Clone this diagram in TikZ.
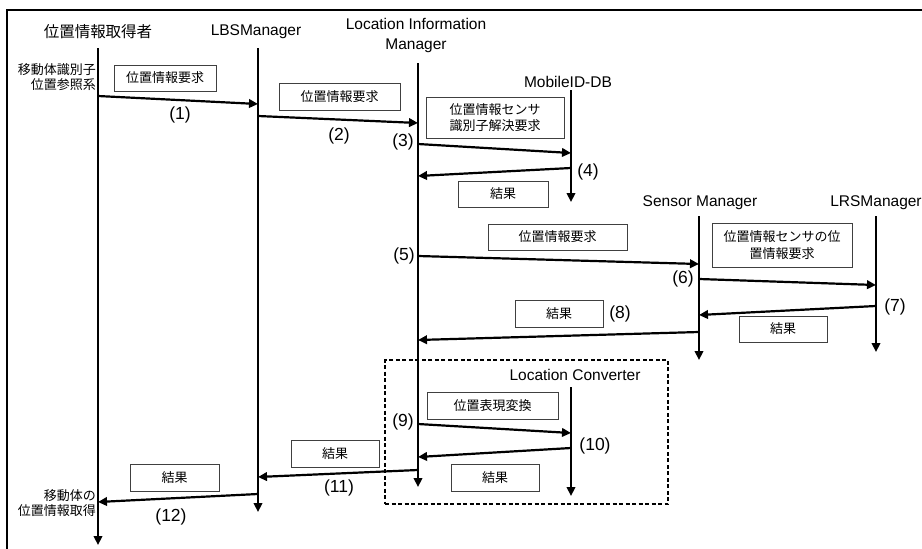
\documentclass[tikz,border=0pt]{standalone}
\usepackage{fontspec}
\setmainfont{Liberation Sans}
\newfontfamily\jp{Noto Sans CJK JP}
\usetikzlibrary{arrows.meta}

\tikzset{
  life/.style={line width=2.4pt, -{Triangle[length=9pt,width=8.5pt]}},
  msg/.style={line width=2.2pt, -{Triangle[length=9pt,width=8.5pt]}},
  head/.style={font=\fontsize{15.5}{20}\selectfont, align=center, inner sep=0pt},
  jhead/.style={head, font=\jp\fontsize{15.5}{20}\selectfont},
  num/.style={font=\fontsize{17.5}{20}\selectfont, inner sep=0pt},
  msgbox/.style={draw=black!75, line width=1pt, fill=white, inner sep=0pt,
    align=center, font=\jp\fontsize{13}{16.5}\selectfont},
  side/.style={align=right, anchor=east, inner sep=0pt,
    font=\jp\fontsize{13}{15}\selectfont},
}

\begin{document}
\begin{tikzpicture}[x=1pt, y=-1pt]
\useasboundingbox (0,0) rectangle (922,549);

% outer frame (top and left edges)
\draw[line width=2pt] (922,10) -- (7,10) -- (7,549);

% participants
\node[jhead] (h1) at (98,32) {位置情報取得者};
\node[head] (h2) at (256,32) {LBSManager};
\node[head] (h3) at (416,35) {Location Information\\Manager};
\node[head] (h4) at (568,82) {MobileID-DB};
\node[head] (h5) at (700,203) {Sensor Manager};
\node[head] (h6) at (876,203) {LRSManager};

% converter group
\node[draw, line width=1.8pt, dash pattern=on 4pt off 2.5pt, minimum width=283pt,
      minimum height=144pt, inner sep=0pt] (conv) at (526.5,432) {};
\node[head] (h7) at (575,375) {Location Converter};

% lifelines
\coordinate (L1t) at (98,48);   \coordinate (L1b) at (98,545);
\coordinate (L2t) at (258,48);  \coordinate (L2b) at (258,512);
\coordinate (L3t) at (418,63);  \coordinate (L3b) at (418,487);
\coordinate (L4t) at (571,90);  \coordinate (L4b) at (571,202);
\coordinate (L5t) at (699,216); \coordinate (L5b) at (699,360);
\coordinate (L6t) at (876,216); \coordinate (L6b) at (876,352);
\coordinate (L7t) at (571,387); \coordinate (L7b) at (571,496);
\foreach \l in {1,...,7} { \draw[life] (L\l t) -- (L\l b); }

% side notes
\node[side] (s1) at (96,77) {移動体識別子\\位置参照系};
\node[side] (s2) at (96,503) {移動体の\\位置情報取得};

% message boxes
\node[msgbox, minimum width=102pt, minimum height=26pt] (b1) at (165,78) {位置情報要求};
\node[msgbox, minimum width=121pt, minimum height=27pt] (b2) at (339.5,96.5) {位置情報要求};
\node[msgbox, minimum width=138pt, minimum height=41pt] (b3) at (495,117.5) {位置情報センサ\\識別子解決要求};
\node[msgbox, minimum width=90pt, minimum height=26pt] (b4) at (503,194) {結果};
\node[msgbox, minimum width=139pt, minimum height=26pt] (b5) at (557.5,237) {位置情報要求};
\node[msgbox, minimum width=140pt, minimum height=44pt] (b6) at (782,245) {位置情報センサの位\\置情報要求};
\node[msgbox, minimum width=88pt, minimum height=26pt] (b7) at (783,329) {結果};
\node[msgbox, minimum width=88pt, minimum height=27pt] (b8) at (559,313.5) {結果};
\node[msgbox, minimum width=131pt, minimum height=27pt] (b9) at (492.5,405.5) {位置表現変換};
\node[msgbox, minimum width=88pt, minimum height=27pt] (b10) at (495,477.5) {結果};
\node[msgbox, minimum width=88pt, minimum height=27pt] (b11) at (335,453.5) {結果};
\node[msgbox, minimum width=89pt, minimum height=27pt] (b12) at (174.5,477.5) {結果};

% messages
\draw[msg] (L1t |- 0,96)  -- (L2t |- 0,104);
\draw[msg] (L2t |- 0,116) -- (L3t |- 0,123);
\draw[msg] (L3t |- 0,144) -- (L4t |- 0,153);
\draw[msg] (L4t |- 0,168) -- (L3t |- 0,176);
\draw[msg] (L3t |- 0,256) -- (L5t |- 0,264);
\draw[msg] (L5t |- 0,279) -- (L6t |- 0,285);
\draw[msg] (L6t |- 0,306) -- (L5t |- 0,315);
\draw[msg] (L5t |- 0,332) -- (L3t |- 0,340);
\draw[msg] (L3t |- 0,424) -- (L7t |- 0,433);
\draw[msg] (L7t |- 0,448) -- (L3t |- 0,457);
\draw[msg] (L3t |- 0,470) -- (L2t |- 0,477);
\draw[msg] (L2t |- 0,494) -- (L1t |- 0,502);

% step numbers
\node[num] (n1) at (180,115) {(1)};
\node[num] (n2) at (339,136) {(2)};
\node[num] (n3) at (403,142) {(3)};
\node[num] (n4) at (588,172) {(4)};
\node[num] (n5) at (404,256) {(5)};
\node[num] (n6) at (683,279) {(6)};
\node[num] (n7) at (895,307) {(7)};
\node[num] (n8) at (620,314) {(8)};
\node[num] (n9) at (403,422) {(9)};
\node[num] (n10) at (595,446) {(10)};
\node[num] (n11) at (339,488) {(11)};
\node[num] (n12) at (171,517) {(12)};
\end{tikzpicture}
\end{document}
